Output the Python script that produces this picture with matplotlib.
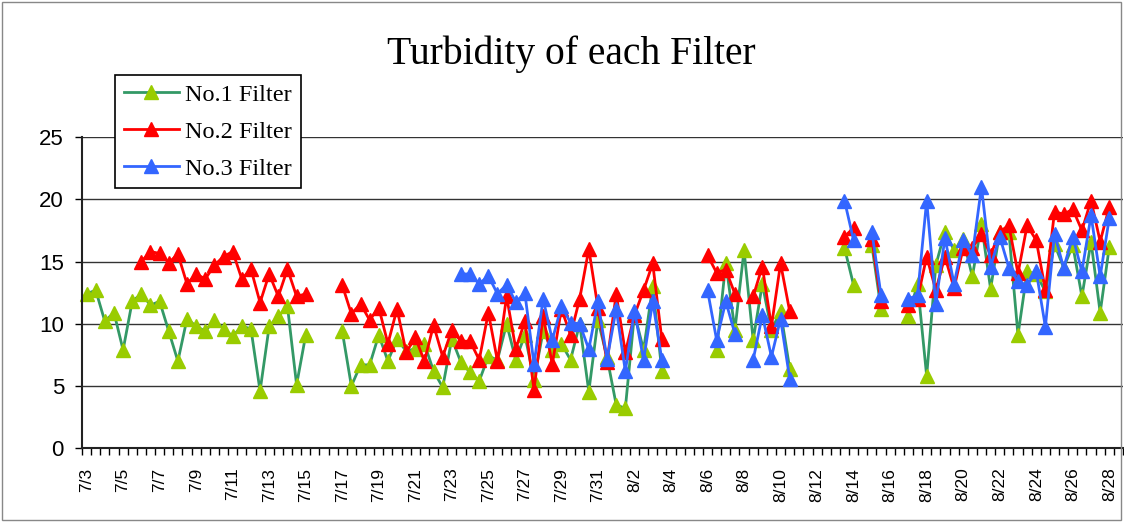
import numpy as np
import matplotlib.pyplot as plt
from matplotlib.patches import Rectangle

nan = np.nan

# two readings per day (AM / PM), 7/3 .. 8/28
date_labels = ["7/3", "7/5", "7/7", "7/9", "7/11", "7/13", "7/15", "7/17", "7/19",
               "7/21", "7/23", "7/25", "7/27", "7/29", "7/31", "8/2", "8/4", "8/6",
               "8/8", "8/10", "8/12", "8/14", "8/16", "8/18", "8/20", "8/22", "8/24",
               "8/26", "8/28"]

no1 = [12.4, 12.7, 10.2, 10.9, 7.9, 11.8, 12.4, 11.5, 11.8, 9.4,
       7.0, 10.4, 9.8, 9.4, 10.3, 9.6, 9.0, 9.8, 9.6, 4.6,
       9.8, 10.6, 11.4, 5.1, 9.1, nan, nan, nan, 9.4, 5.0,
       6.7, 6.7, 9.1, 7.0, 8.8, 7.8, 8.0, 8.4, 6.2, 4.9,
       8.8, 6.9, 6.1, 5.4, 7.4, 7.1, 10.0, 7.1, 9.1, 5.5,
       9.4, 7.9, 8.4, 7.1, 10.0, 4.55, 10.3, 7.3, 3.5, 3.2,
       10.8, 7.9, 13.0, 6.2, nan, nan, nan, nan, nan, 7.9,
       14.9, 9.5, 15.9, 8.7, 13.2, 9.5, 11.0, 6.4, nan, nan,
       nan, nan, nan, 16.1, 13.1, nan, 16.3, 11.2, nan, nan,
       10.6, 13.2, 5.8, 14.7, 17.4, 15.9, 16.8, 13.8, 18.0, 12.8,
       17.4, 17.4, 9.1, 14.2, 14.0, 12.6, 16.4, 14.5, 16.3, 12.2,
       16.6, 10.9, 16.2, nan]

no2 = [nan, nan, nan, nan, nan, nan, 15.0, 15.8, 15.65, 14.9,
       15.6, 13.2, 14.0, 13.6, 14.7, 15.4, 15.8, 13.6, 14.4, 11.7,
       14.0, 12.2, 14.4, 12.2, 12.4, nan, nan, nan, 13.1, 10.8,
       11.6, 10.3, 11.3, 8.4, 11.2, 7.7, 8.9, 7.0, 9.9, 7.35,
       9.5, 8.6, 8.6, 7.1, 10.9, 7.0, 12.2, 8.0, 10.2, 4.7,
       10.65, 6.75, 11.2, 9.1, 12.0, 16.0, 11.3, 6.95, 12.4, 7.7,
       10.7, 12.7, 14.85, 8.75, nan, nan, nan, nan, 15.5, 14.1,
       14.35, 12.4, nan, 12.2, 14.6, 9.8, 14.85, 11.0, nan, nan,
       nan, nan, nan, 17.0, 17.7, nan, 16.8, 11.8, nan, nan,
       11.5, 12.0, 15.4, 12.7, 15.4, 12.85, 16.1, 16.1, 17.2, 15.5,
       17.4, 17.9, 14.05, 17.9, 16.7, 12.7, 19.0, 18.8, 19.2, 17.5,
       19.9, 16.6, 19.4, nan]

no3 = [nan] * 41 + [
       14.0, 14.0, 13.2, 13.85, 12.4, 13.15, 11.75, 12.45, 6.75,
       12.0, 8.7, 11.4, 10.1, 10.0, 7.95, 11.8, 7.15, 11.2, 6.2,
       11.05, 7.1, 11.8, 7.1, nan, nan, nan, nan, 12.7, 8.7,
       11.8, 9.2, nan, 7.1, 10.7, 7.35, 10.4, 5.6, nan, nan,
       nan, nan, nan, 19.9, 16.7, nan, 17.4, 12.3, nan, nan,
       12.0, 12.3, 19.9, 11.6, 16.9, 13.2, 16.7, 15.5, 21.0, 14.6,
       17.0, 14.5, 13.4, 13.1, 14.2, 9.75, 17.2, 14.5, 17.0, 14.2,
       18.7, 13.8, 18.5, nan]

series = [("No.1 Filter", no1, "#339966", "#99CC00"),
          ("No.2 Filter", no2, "#FF0000", "#FF0000"),
          ("No.3 Filter", no3, "#3366FF", "#3366FF")]

W, H = 1124, 522
fig = plt.figure(figsize=(W / 100, H / 100), dpi=100)
ax = fig.add_axes([82 / W, 1 - 448.3 / H, (1123 - 82) / W, (448.3 - 137) / H])

x = np.arange(len(no1))
for name, vals, lc, mc in series:
    ax.plot(x, np.array(vals, dtype=float), color=lc, lw=2.0, marker="^", ms=10,
            mfc=mc, mec=mc, label=name, clip_on=False)

ax.set_xlim(-0.5, len(no1) - 0.5)
ax.set_ylim(0, 25)
ax.set_yticks(range(0, 26, 5))
ax.yaxis.grid(True, color="#333333", lw=1.0)
ax.set_axisbelow(True)
for s in ("top", "right"):
    ax.spines[s].set_visible(False)
for s in ("left", "bottom"):
    ax.spines[s].set_color("#222222")
    ax.spines[s].set_linewidth(1.5)

ax.set_xticks(range(0, len(date_labels) * 4, 4), date_labels, rotation=90,
              fontsize=12.5, family="Liberation Sans")
ax.set_xticks(np.arange(-0.5, len(no1), 1.0), minor=True)
ax.tick_params(axis="x", which="major", length=0, pad=14)
ax.tick_params(axis="x", which="minor", length=5, width=1.0, direction="out")
ax.tick_params(axis="y", length=5, width=1.0, direction="out", pad=8)
for lab in ax.get_yticklabels():
    lab.set_fontsize(16)
    lab.set_family("Liberation Sans")

fig.text(571 / W, 1 - 54 / H, "Turbidity of each Filter", family="Liberation Serif",
         fontsize=28.5, ha="center", va="center")

leg = ax.legend(loc="upper left", bbox_to_anchor=(115 / W, 1 - 75 / H),
                bbox_transform=fig.transFigure, prop={"family": "Liberation Serif", "size": 17.5},
                frameon=True, fancybox=False, edgecolor="black", framealpha=1,
                borderaxespad=0, handlelength=2.3, labelspacing=0.62, borderpad=0.35,
                handletextpad=0.25)
leg.get_frame().set_linewidth(1.2)

fig.patches.append(Rectangle((0.002, 0.003), 0.995, 0.993, transform=fig.transFigure,
                             fill=False, edgecolor="#888888", lw=1.0))

fig.savefig("out.png", dpi=100)
